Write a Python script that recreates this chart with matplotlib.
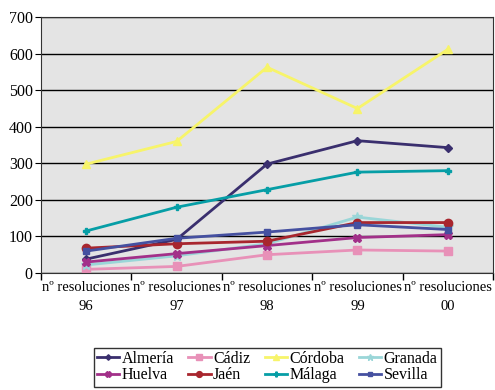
import matplotlib.pyplot as plt
import numpy as np

plt.rcParams['font.family'] = ['Liberation Serif', 'DejaVu Serif']

# datos
anios = ['96', '97', '98', '99', '00']
almeria = [38, 92, 298, 362, 343]
cadiz = [10, 18, 50, 63, 60]
cordoba = [298, 360, 563, 450, 612]
granada = [22, 47, 80, 153, 125]
huelva = [30, 53, 75, 97, 105]
jaen = [68, 80, 87, 138, 138]
malaga = [115, 180, 228, 276, 280]
sevilla = [60, 95, 112, 132, 119]

series = [
    ('Almería', almeria, '#3A2F6E', 'D', 4),
    ('Cádiz', cadiz, '#E891B8', 's', 6),
    ('Córdoba', cordoba, '#F7F46A', '^', 6),
    ('Granada', granada, '#9AD6D8', '*', 7),
    ('Huelva', huelva, '#A23089', 'X', 6),
    ('Jaén', jaen, '#A8262E', 'o', 6),
    ('Málaga', malaga, '#069EA6', 'P', 5),
    ('Sevilla', sevilla, '#4550A0', 's', 5),
]

fig = plt.figure(figsize=(4.95, 3.9), dpi=100)
ax = fig.add_axes([0.083, 0.30, 0.913, 0.656])
ax.set_facecolor('#E4E4E4')

x = np.arange(len(anios))
lineas = []
for nombre, vals, color, mk, ms in series:
    l, = ax.plot(x, vals, color=color, marker=mk, markersize=ms, linewidth=2,
                 markeredgecolor=color, label=nombre)
    lineas.append(l)

ax.set_xlim(-0.5, 4.5)
ax.set_ylim(0, 700)
ax.set_yticks(range(0, 701, 100))
ax.yaxis.grid(True, color='black', linewidth=1)
ax.set_axisbelow(True)

ax.set_xticks(np.arange(-0.5, 5, 1))
ax.set_xticklabels([])
ax.set_xticks(x, minor=True)
ax.set_xticklabels(['nº resoluciones\n' + a for a in anios], minor=True,
                   fontsize=10.5, linespacing=1.6)
ax.tick_params(axis='x', which='minor', length=0, pad=6)
ax.tick_params(axis='x', which='major', direction='out', length=5, width=1)
ax.tick_params(axis='y', direction='out', length=4, labelsize=11.5, pad=2)

for s in ax.spines.values():
    s.set_color('#333333')

# orden por filas como en el original
orden = [0, 4, 1, 5, 2, 6, 3, 7]
ax.legend([lineas[i] for i in orden], [series[i][0] for i in orden],
          loc='upper center', bbox_to_anchor=(0.5, -0.26), ncol=4,
          fontsize=11.5, frameon=True, fancybox=False, edgecolor='black',
          handlelength=1.4, handletextpad=0.15, columnspacing=0.9,
          labelspacing=0.05, borderpad=0.2, markerscale=0.7)

fig.savefig('out.png', dpi=100)
